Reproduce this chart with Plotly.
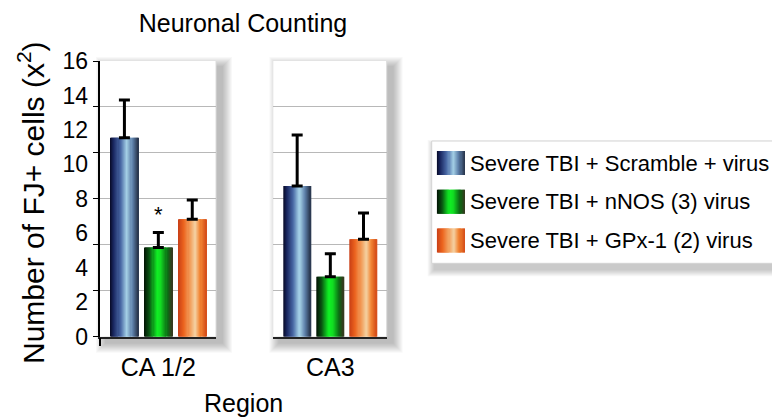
import plotly.graph_objects as go

# ---------------- data ----------------
regions = ["CA 1/2", "CA3"]
series = ["Severe TBI + Scramble + virus",
          "Severe TBI + nNOS (3) virus",
          "Severe TBI + GPx-1 (2) virus"]
ca12_means = [11.55, 5.17, 6.81]
ca12_errors = [2.19, 0.87, 1.12]
ca12_marks = ["", "*", ""]
ca3_means = [8.75, 3.48, 5.65]
ca3_errors = [2.96, 1.34, 1.53]
ca3_marks = ["", "", ""]
y_tick_values = [0, 2, 4, 6, 8, 10, 12, 14, 16]
y_tick_labels = ["0", "2", "4", "6", "8", "10", "12", "14", "16"]
chart_title = "Neuronal Counting"
x_title = "Region"
y_title = "Number of FJ+ cells (x<sup>2</sup>)"

# ---------------- style ----------------
FONT = "Liberation Sans, Arial, Helvetica, sans-serif"
PAGE_OFF = 8              # default page margin around the plot div
W, H = 780 - PAGE_OFF, 419 - PAGE_OFF
gradients = [
    [(0.0, "#070a24"), (0.14, "#1a2862"), (0.38, "#4a6aa6"), (0.6, "#a4d0e6"),
     (0.8, "#5c7ea8"), (1.0, "#263248")],
    [(0.0, "#021202"), (0.2, "#0a5212"), (0.47, "#10f024"), (0.6, "#12dc22"),
     (0.84, "#0c6a14"), (1.0, "#3a3620")],
    [(0.0, "#c83e16"), (0.22, "#ec641e"), (0.45, "#f2a462"), (0.62, "#f4d2a4"),
     (0.8, "#f28432"), (1.0, "#d44c18")],
]


def hex2rgb(h):
    h = h.lstrip("#")
    return [int(h[i:i + 2], 16) for i in (0, 2, 4)]


def grad_color(stops, t):
    for (t0, c0), (t1, c1) in zip(stops[:-1], stops[1:]):
        if t0 <= t <= t1:
            f = (t - t0) / (t1 - t0) if t1 > t0 else 0
            a, b = hex2rgb(c0), hex2rgb(c1)
            return "rgb(%d,%d,%d)" % tuple(round(a[i] + (b[i] - a[i]) * f) for i in range(3))
    return stops[-1][1]


def px_x(p):
    return (p - PAGE_OFF) / W


def px_y(p):
    return 1 - (p - PAGE_OFF) / H


K = 26
BAR_W = 0.83
positions = [0, 1, 2]
x_range = [-0.72, 2.70]
y_dom = [px_y(336.7), px_y(61)]
panel_px = [(100, 216), (273.3, 386.7)]
panel_doms = [[px_x(a), px_x(b)] for a, b in panel_px]
grid_vals = [16 * i / 6 for i in range(7)]

fig = go.Figure()
annotations = []

panels = [(ca12_means, ca12_errors, ca12_marks), (ca3_means, ca3_errors, ca3_marks)]
for pi, (means, errs, marks) in enumerate(panels):
    xa = "x" if pi == 0 else "x2"
    ya = "y" if pi == 0 else "y2"
    step = BAR_W / K
    for k in range(K):
        off = -BAR_W / 2 + k * step
        wid = min(step * 1.7, BAR_W / 2 - off)
        t = (k + 0.5) / K
        fig.add_trace(go.Bar(
            x=positions, y=means, offset=off, width=wid,
            marker=dict(color=[grad_color(g, t) for g in gradients], line=dict(width=0)),
            xaxis=xa, yaxis=ya, showlegend=False, hoverinfo="skip"))
    fig.add_trace(go.Bar(
        x=positions, y=means, width=BAR_W, offset=-BAR_W / 2,
        marker=dict(color="rgba(0,0,0,0)", line=dict(width=0)),
        error_y=dict(type="data", array=errs, arrayminus=[0] * len(errs), symmetric=False,
                     color="black", thickness=3, width=5.5),
        xaxis=xa, yaxis=ya, showlegend=False, hoverinfo="skip"))
    for i, m in enumerate(marks):
        if m:
            annotations.append(dict(text=m, x=positions[i], y=means[i] + errs[i], xref=xa, yref=ya,
                                    showarrow=False, xanchor="center", yanchor="bottom", yshift=4,
                                    font=dict(size=22, color="black")))

# custom legend with gradient swatches
for k in range(K):
    step = 1 / K
    base = k * step
    length = min(step * 1.7, 1 - base)
    t = (k + 0.5) / K
    fig.add_trace(go.Bar(
        y=series, x=[length] * 3, base=[base] * 3, orientation="h", width=0.62,
        marker=dict(color=[grad_color(g, t) for g in gradients], line=dict(width=0)),
        xaxis="x4", yaxis="y4", showlegend=False, hoverinfo="skip"))

# shapes: shadows and panel/legend backgrounds
shapes = []


def shadow(x0, y0, x1, y1, dx=6, dy=6, n=10, op=0.028):
    for i in range(n, 0, -1):
        shapes.append(dict(type="rect", xref="paper", yref="paper", layer="below",
                           x0=px_x(x0 + dx - i), x1=px_x(x1 + dx + i),
                           y0=px_y(y1 + dy + i), y1=px_y(y0 + dy - i),
                           fillcolor="rgba(0,0,0,%.3f)" % op, line=dict(width=0)))


for a, b in panel_px:
    shadow(a, 61, b, 336.7)
shadow(431.7, 141, 800, 263.3, dx=3, dy=6, n=7, op=0.03)
for a, b in panel_px:
    shapes.append(dict(type="rect", xref="paper", yref="paper", layer="below",
                       x0=px_x(a), x1=px_x(b), y0=px_y(336.7), y1=px_y(61),
                       fillcolor="white", line=dict(width=0)))
    shapes.append(dict(type="line", xref="paper", yref="paper", layer="below",
                       x0=px_x(b), x1=px_x(b), y0=px_y(336.7), y1=px_y(61),
                       line=dict(color="#dcdcdc", width=1)))
shapes.append(dict(type="rect", xref="paper", yref="paper", layer="below",
                   x0=px_x(431.7), x1=px_x(800), y0=px_y(263.3), y1=px_y(141),
                   fillcolor="white", line=dict(color="#d4d4d4", width=1)))

annotations += [
    dict(text=x_title, x=px_x(243), y=px_y(403), xref="paper", yref="paper",
         showarrow=False, xanchor="center", yanchor="middle", font=dict(size=25)),
    dict(text=y_title, x=px_x(31), y=px_y(203), xref="paper", yref="paper",
         showarrow=False, xanchor="center", yanchor="middle", textangle=-90,
         font=dict(size=30)),
]

axis_common = dict(zeroline=False, showgrid=False, fixedrange=True, automargin=False)
fig.update_layout(
    width=W, height=H,
    margin=dict(l=0, r=0, t=0, b=0, autoexpand=False),
    paper_bgcolor="white", plot_bgcolor="rgba(0,0,0,0)",
    barmode="overlay", showlegend=False,
    font=dict(family=FONT, color="black"),
    title=dict(text=chart_title, x=px_x(243), y=px_y(23), xanchor="center", yanchor="middle",
               xref="paper", yref="paper", font=dict(family=FONT, size=25, color="black")),
    shapes=shapes,
    xaxis=dict(domain=panel_doms[0], range=x_range, anchor="y", tickvals=[1], ticktext=[regions[0]],
               ticks="", showline=True, linecolor="#222", linewidth=1.5,
               minor=dict(tickvals=[x_range[0]], ticks="outside", ticklen=8, tickcolor="black",
                          tickwidth=1.5),
               tickfont=dict(size=25), ticklabelstandoff=8, **axis_common),
    yaxis=dict(domain=y_dom, range=[0, 16], anchor="x", tickvals=grid_vals, showticklabels=False,
               showgrid=True, gridcolor="#b8b8b8", gridwidth=1, zeroline=False, automargin=False,
               showline=True, linecolor="black", linewidth=1.5,
               ticks="outside", ticklen=5, tickcolor="black", tickwidth=1.2, fixedrange=True),
    yaxis3=dict(overlaying="y", anchor="x", range=[0, 16], tickvals=y_tick_values,
                ticktext=y_tick_labels, ticks="", showline=False, tickfont=dict(size=23),
                ticklabelstandoff=11, **axis_common),
    xaxis2=dict(domain=panel_doms[1], range=x_range, anchor="y2", tickvals=[1], ticktext=[regions[1]],
                ticks="", showline=True, linecolor="#222", linewidth=1.5,
                tickfont=dict(size=25), ticklabelstandoff=8, **axis_common),
    yaxis2=dict(domain=y_dom, range=[0, 16], anchor="x2", tickvals=grid_vals, showticklabels=False,
                showgrid=True, gridcolor="#b8b8b8", gridwidth=1, zeroline=False, automargin=False,
                showline=False, ticks="", fixedrange=True),
    xaxis4=dict(domain=[px_x(436.7), px_x(465)], range=[0, 1], anchor="y4", visible=False,
                fixedrange=True, automargin=False),
    yaxis4=dict(domain=[px_y(259.9), px_y(143.6)], anchor="x4", type="category",
                categoryorder="array", categoryarray=series, autorange="reversed",
                side="right", ticks="", showline=False, tickfont=dict(size=22),
                ticklabelstandoff=4, **axis_common),
    annotations=annotations,
)
fig.add_trace(go.Scatter(x=[None], y=[None], xaxis="x", yaxis="y3", showlegend=False,
                         hoverinfo="skip"))

fig.write_html("out.html")
